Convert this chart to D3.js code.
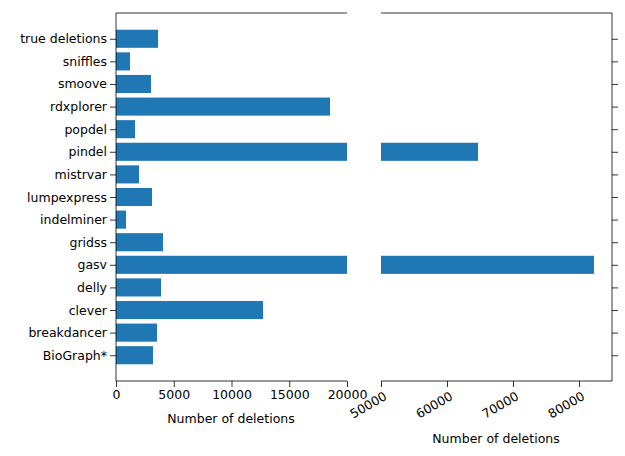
<!DOCTYPE html>
<html><head><meta charset="utf-8">
<script src="https://cdn.jsdelivr.net/npm/d3@7"></script>
<style>body{margin:0;background:#fff}text{font-family:"DejaVu Sans",sans-serif}</style>
</head><body>
<script>
// categories bottom to top
var tools = ["BioGraph*","breakdancer","clever","delly","gasv","gridss","indelminer","lumpexpress","mistrvar","pindel","popdel","rdxplorer","smoove","sniffles","true deletions"];
var deletions = [3200,3550,12730,3900,82270,4070,870,3120,1990,64700,1650,18530,3030,1210,3640];
var leftTicks = [0,5000,10000,15000,20000];
var rightTicks = [50000,60000,70000,80000];

var W = 625, H = 456, plotTop = 13, plotBottom = 381;
var svg = d3.select("body").append("svg").attr("width", W).attr("height", H);

var y = d3.scaleLinear().domain([-1.14, 15.14]).range([plotBottom, plotTop]);
var bh = y(0) - y(0.8);
var xl = d3.scaleLinear().domain([0, 20000]).range([116, 347]);
var xr = d3.scaleLinear().domain([50000, 85000]).range([381, 612]);

function panel(x, id) {
  var g = svg.append("g");
  g.append("defs").append("clipPath").attr("id", "c" + id)
    .append("rect").attr("x", x.range()[0]).attr("y", plotTop).attr("width", x.range()[1] - x.range()[0]).attr("height", plotBottom - plotTop);
  g.append("g").attr("clip-path", "url(#c" + id + ")")
    .selectAll("rect").data(deletions).enter().append("rect")
    .attr("x", x.range()[0])
    .attr("y", function(d, i) { return y(i) - bh / 2; })
    .attr("width", function(d) { return Math.max(0, Math.min(x(d), x.range()[1]) - x.range()[0]); })
    .attr("height", bh).attr("fill", "#1f77b4");
  return g;
}
var gl = panel(xl, "l"), gr = panel(xr, "r");

// left axes
var ax = gl.append("g").attr("transform", "translate(0," + plotBottom + ")")
  .call(d3.axisBottom(xl).tickValues(leftTicks).tickFormat(d3.format("d")).tickSizeOuter(0));
var ay = gl.append("g").attr("transform", "translate(116,0)")
  .call(d3.axisLeft(y).tickValues(d3.range(tools.length)).tickFormat(function(i) { return tools[i]; }).tickSizeOuter(0));
gl.append("line").attr("class", "spine").attr("x1", 116).attr("x2", 347).attr("y1", plotTop).attr("y2", plotTop);
ay.select(".domain").attr("d", "M0," + plotTop + "V" + plotBottom);
ax.select(".domain").attr("d", "M116,0H347");
gl.append("text").attr("x", 231).attr("y", 423).attr("text-anchor", "middle").attr("font-size", 12.5).text("Number of deletions");

// right axes
var rx = gr.append("g").attr("transform", "translate(0," + plotBottom + ")")
  .call(d3.axisBottom(xr).tickValues(rightTicks).tickFormat(d3.format("d")).tickSizeOuter(0));
rx.selectAll("text").attr("text-anchor", "end").attr("y", 0).attr("dy", "0.35em")
  .attr("transform", "translate(4,14) rotate(-30)");
rx.select(".domain").attr("d", "M381,0H612");
var ry = gr.append("g").attr("transform", "translate(612,0)")
  .call(d3.axisRight(y).tickValues(d3.range(tools.length)).tickFormat("").tickSizeOuter(0));
ry.select(".domain").attr("d", "M0," + plotTop + "V" + plotBottom);
gr.append("line").attr("class", "spine").attr("x1", 381).attr("x2", 612).attr("y1", plotTop).attr("y2", plotTop);
gr.append("text").attr("x", 496).attr("y", 443).attr("text-anchor", "middle").attr("font-size", 12.5).text("Number of deletions");

svg.selectAll(".tick text").attr("font-size", 12.5).attr("fill", "#000");
svg.selectAll(".tick line").attr("stroke", "#000").attr("stroke-width", 0.8);
svg.selectAll(".domain").attr("stroke", "#000").attr("stroke-width", 0.8);
svg.selectAll(".spine").attr("stroke", "#000").attr("stroke-width", 0.8);
</script>
</body></html>
